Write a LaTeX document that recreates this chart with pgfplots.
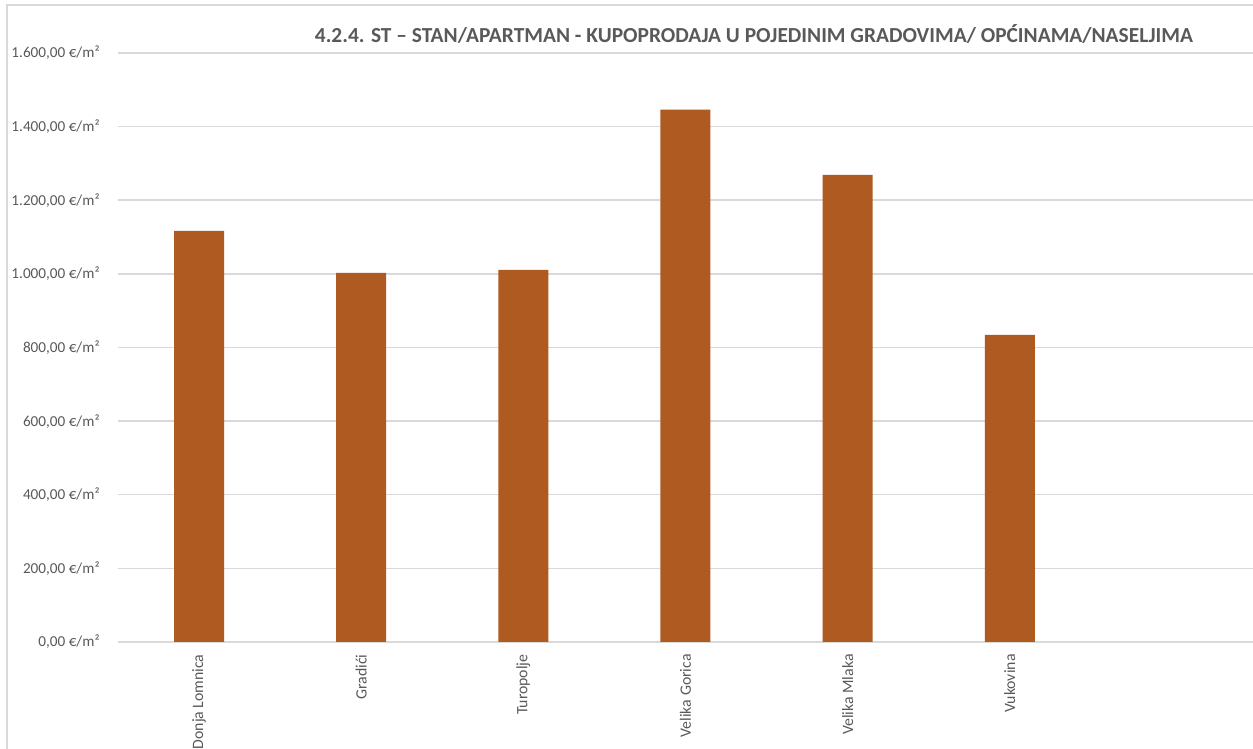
\documentclass[border=0pt]{standalone}
\usepackage{fontspec}
\setmainfont{Carlito}
\usepackage{pgfplots}
\pgfplotsset{compat=1.18}
\definecolor{barc}{RGB}{174,90,33}
\definecolor{gridc}{RGB}{217,217,217}
\definecolor{txtc}{RGB}{89,89,89}
\begin{document}
\begin{tikzpicture}
\draw[gridc, line width=0.75pt] (3.5pt,-20pt) -- (3.5pt,372pt) -- (700pt,372pt);
\begin{axis}[
  at={(59pt,53.5pt)}, anchor=south west,
  scale only axis, width=567.5pt, height=294.5pt,
  ybar, bar width=25pt,
  xmin=-0.5, xmax=6.5, ymin=0, ymax=1600,
  axis line style={draw=none},
  major tick length=0pt,
  xtick={0,1,2,3,4,5},
  xticklabels={Donja Lomnica,Gradići,Turopolje,Velika Gorica,Velika Mlaka,Vukovina},
  xticklabel style={rotate=90, anchor=east, inner sep=0pt, xshift=-6pt, font=\fontsize{7.9}{9}\selectfont, text=txtc},
  ytick={0,200,400,600,800,1000,1200,1400,1600},
  yticklabels={{0,00 €/m²},{200,00 €/m²},{400,00 €/m²},{600,00 €/m²},{800,00 €/m²},{1.000,00 €/m²},{1.200,00 €/m²},{1.400,00 €/m²},{1.600,00 €/m²}},
  yticklabel style={anchor=east, inner sep=0pt, xshift=-9pt, font=\fontsize{7.6}{9}\selectfont, text=txtc},
  ymajorgrids, grid style={gridc, line width=0.75pt},
  clip=false,
]
\addplot[fill=barc, draw=none] coordinates {(0,1117) (1,1003) (2,1011) (3,1446) (4,1269) (5,834)};
\end{axis}
\node[font=\bfseries\fontsize{10.7}{12}\selectfont, text=txtc] at (377pt,357.5pt) {4.2.4. ST – STAN/APARTMAN - KUPOPRODAJA U POJEDINIM GRADOVIMA/ OPĆINAMA/NASELJIMA};
\pgfresetboundingbox
\path[use as bounding box] (0,0) rectangle (626.5pt,374.5pt);
\end{tikzpicture}
\end{document}
